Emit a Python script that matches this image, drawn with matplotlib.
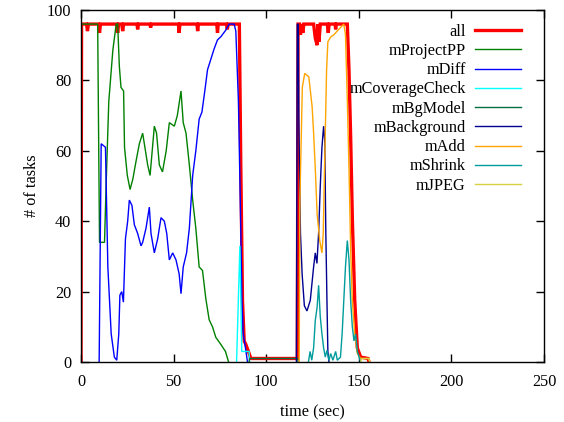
import matplotlib
matplotlib.use("Agg")
import matplotlib.pyplot as plt

plt.rcParams['font.family'] = ['Liberation Serif', 'DejaVu Serif']

all_t = [0, 0.3, 3, 3.5, 4, 9.5, 10, 10.5, 19.3, 19.8, 20.3, 22, 22.5, 23, 30.2, 30.6, 31, 37.2, 37.6, 38, 52.6, 53, 53.4,
         62.6, 63, 63.4, 73.3, 73.7, 74.1, 78.5, 79, 79.5, 85.5, 86.3, 87.2, 88.1, 89, 90.8, 91.7,
         116.8, 117.2, 118, 118.5, 119, 119.8, 120.3, 121, 125.6, 126.5, 127.5, 128, 128.5, 129.2, 130, 133, 133.5, 134, 137.2, 137.5, 137.8,
         143.8, 144.7, 145.6, 146.5, 147.8, 149.2, 151, 155, 155.5]
all_v = [0, 96, 96, 94, 96, 96, 93.5, 96, 96, 93.5, 96, 96, 94, 96, 96, 94.5, 96, 96, 95, 96, 96, 93.5, 96,
         96, 94, 96, 96, 93.5, 96, 96, 94.5, 96, 96, 55, 17.5, 6, 5, 2.4, 1,
         1, 96, 96, 93, 96, 93.5, 96, 96, 96, 92, 90, 96, 91, 96, 96, 96, 93.5, 96, 96, 94.5, 96,
         96, 83, 64, 41, 17.5, 4, 1.4, 1, 0]

pp_t = [0, 9, 10, 12.7, 13.6, 15, 17.2, 19, 19.8, 20.7, 21.6, 23, 23.5, 25, 26.5, 28, 29.7, 31.5, 33.3, 34.2, 36, 37.3,
        39.6, 40.8, 42.3, 44, 46, 47.7, 50.4, 52, 54, 55.2, 56.7, 58.5, 60.3, 62, 63.8, 65.6, 67.4, 69.2, 71, 72.8,
        75.5, 78, 79.7]
pp_v = [96, 96, 34, 34, 51, 74, 88.6, 96, 96, 84, 78, 77, 61, 53, 49, 52, 57, 62, 65, 62, 56, 53,
        67, 65, 56, 54, 60, 68, 67, 70, 77, 68, 65, 56, 46, 38, 27, 26, 18, 12, 10, 7,
        5, 3, 0]

diff_t = [9.8, 10.9, 13.2, 14.5, 16.3, 18, 19.3, 20.4, 21, 22, 22.9, 24, 25.2, 26.1, 27.5, 28.8, 30.6, 32.4, 33.3,
          35.1, 36.9, 37.8, 39.6, 41.4, 43.2, 45, 46.3, 47.7, 49.5, 51.3, 53, 54, 55.2, 57, 58.5, 60.3, 62, 63.8,
          65.3, 67.1, 68.3, 70.1, 71.9, 73.7, 75.5, 78.2, 80, 82.7, 83.6, 85, 86, 86.9, 87.6, 89, 89.9]
diff_v = [0, 62, 61, 27, 8, 1.4, 0.5, 8, 19, 20, 17, 35, 40, 46, 44.5, 39, 36.5, 33, 34,
          38, 44, 36.5, 31, 35, 41, 40, 36.5, 29, 31, 29, 25, 19.4, 27, 31, 38, 53, 60, 69,
          71, 78, 83, 86, 89, 91.5, 92.4, 94.3, 96, 96, 94, 74, 46, 17.5, 8, 3.3, 0]

cov_t = [84, 85.8, 86.8, 90.8, 91]
cov_v = [0, 33, 3, 3, 0]

bgm_t = [90.8, 91, 117, 117.2]
bgm_v = [0, 1, 1, 0]

bg_t = [116.3, 116.8, 117.3, 117.6, 118.5, 119.4, 120.6, 122, 123.8, 125.6, 126.5, 127.4, 128.3, 129.2, 130.1,
        131, 131.6, 132.2, 132.8, 133.3, 133.9]
bg_v = [0, 96, 96, 70, 36.6, 25, 16, 14.5, 17.5, 27, 31, 28, 36.6, 50, 61,
        67, 63, 36.6, 17.5, 3, 0]

add_t = [117.8, 118.2, 119.5, 120.8, 123, 124.8, 125.6, 126.5, 127.5, 128.9, 130.1, 130.8, 131.5, 132.6, 133.3,
         134.8, 136.6, 138.3, 140.1, 141.9, 142.8, 143.8, 144.7, 145.6, 146.5, 147.8, 149.2, 151, 155.4, 155.8]
add_v = [0, 46, 78, 82, 81, 72.5, 65, 55, 42, 34.5, 31, 36.6, 55, 83, 91,
         92.3, 93, 94, 95, 96, 93, 74.5, 55, 32, 17.5, 8, 2.4, 1, 1, 0]

shr_t = [122.8, 123.7, 124.6, 125.6, 126.5, 127.5, 128.3, 129.2, 130.1, 131, 131.9, 132.8, 133.9, 134.8, 136,
         137.5, 138.4, 140.1, 141, 141.9, 142.8, 143.8, 144.7, 145.6, 146.5, 147.4, 148.3, 149.2, 151]
shr_v = [0, 3, 0.5, 4, 11.8, 15.6, 21.8, 12.8, 8, 4, 1.4, 3.3, 0.5, 2.4, 0.5,
         3, 0.5, 1.4, 8, 17.5, 27, 34.5, 29, 17.5, 10, 6, 8, 3, 0]

jpg_t = [151, 151.5, 155.5, 156]
jpg_v = [0, 1, 1, 0]

series = [
    ("all", all_t, all_v, "#ff0000", 2.4),
    ("mProjectPP", pp_t, pp_v, "#008000", 1.0),
    ("mDiff", diff_t, diff_v, "#0000ff", 1.0),
    ("mCoverageCheck", cov_t, cov_v, "#00ffff", 1.0),
    ("mBgModel", bgm_t, bgm_v, "#007040", 1.0),
    ("mBackground", bg_t, bg_v, "#000090", 1.0),
    ("mAdd", add_t, add_v, "#ffa500", 1.0),
    ("mShrink", shr_t, shr_v, "#009c9c", 1.0),
    ("mJPEG", jpg_t, jpg_v, "#d8d040", 1.0),
]

xticks = [0, 50, 100, 150, 200, 250]
yticks = [0, 20, 40, 60, 80, 100]

fig = plt.figure(figsize=(5.64, 4.22), dpi=100)
ax = fig.add_axes([81 / 564, 1 - 362 / 422, (544 - 81) / 564, (362 - 10) / 422])

for name, t, v, c, lw in series:
    ax.plot(t, v, color=c, lw=lw, label=name, solid_joinstyle='miter')

ax.set_xlim(0, 250)
ax.set_ylim(0, 100)
ax.set_xticks(xticks)
ax.set_yticks(yticks)
ax.tick_params(direction='in', length=6, width=1, top=True, right=True, labelsize=11.7, colors='black')
ax.tick_params(axis='x', pad=9)
ax.tick_params(axis='y', pad=7)
for s in ax.spines.values():
    s.set_linewidth(1.0)
ax.set_xlabel("time (sec)", fontsize=11.7, labelpad=10)
ax.set_ylabel("# of tasks", fontsize=11.7, labelpad=5)

leg = ax.legend(loc='upper right', bbox_to_anchor=(0.950, 0.961), frameon=False, markerfirst=False,
                fontsize=11.7, handlelength=2.8, handletextpad=0.6, labelspacing=0.2, borderpad=0,
                borderaxespad=0)

fig.savefig("out.png", dpi=100)
